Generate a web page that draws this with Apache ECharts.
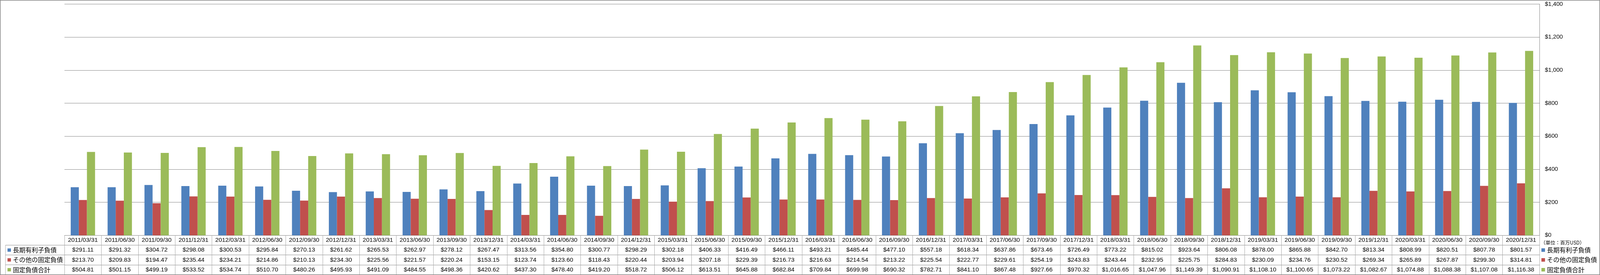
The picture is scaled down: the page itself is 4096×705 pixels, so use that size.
<!DOCTYPE html>
<html><head><meta charset="utf-8">
<script src="https://cdn.jsdelivr.net/npm/echarts@6/dist/echarts.min.js"></script>
<style>html,body{margin:0;padding:0;background:#fff}#c{width:4096px;height:705px}</style>
</head><body><div id="c"></div>
<script>
const categories = ['2011/03/31','2011/06/30','2011/09/30','2011/12/31','2012/03/31','2012/06/30','2012/09/30','2012/12/31','2013/03/31','2013/06/30','2013/09/30','2013/12/31','2014/03/31','2014/06/30','2014/09/30','2014/12/31','2015/03/31','2015/06/30','2015/09/30','2015/12/31','2016/03/31','2016/06/30','2016/09/30','2016/12/31','2017/03/31','2017/06/30','2017/09/30','2017/12/31','2018/03/31','2018/06/30','2018/09/30','2018/12/31','2019/03/31','2019/06/30','2019/09/30','2019/12/31','2020/03/31','2020/06/30','2020/09/30','2020/12/31'];
const longTermDebt = [291.11,291.32,304.72,298.08,300.53,295.84,270.13,261.62,265.53,262.97,278.12,267.47,313.56,354.80,300.77,298.29,302.18,406.33,416.49,466.11,493.21,485.44,477.10,557.18,618.34,637.86,673.46,726.49,773.22,815.02,923.64,806.08,878.00,865.88,842.70,813.34,808.99,820.51,807.78,801.57];
const otherFixedLiabilities = [213.70,209.83,194.47,235.44,234.21,214.86,210.13,234.30,225.56,221.57,220.24,153.15,123.74,123.60,118.43,220.44,203.94,207.18,229.39,216.73,216.63,214.54,213.22,225.54,222.77,229.61,254.19,243.83,243.44,232.95,225.75,284.83,230.09,234.76,230.52,269.34,265.89,267.87,299.30,314.81];
const totalFixedLiabilities = [504.81,501.15,499.19,533.52,534.74,510.70,480.26,495.93,491.09,484.55,498.36,420.62,437.30,478.40,419.20,518.72,506.12,613.51,645.88,682.84,709.84,699.98,690.32,782.71,841.10,867.48,927.66,970.32,1016.65,1047.96,1149.39,1090.91,1108.10,1100.65,1073.22,1082.67,1074.88,1088.38,1107.08,1116.38];
const seriesNames = ['長期有利子負債','その他の固定負債','固定負債合計'];
const seriesColors = ['#4F81BD','#C0504D','#9BBB59'];
const yMin = 0, yMax = 1400, yInterval = 200;
const unitLabel = '（単位：百万USD）';

// layout (px)
const W = 4096, H = 705;
const plotLeft = 165, plotRight = 3941, plotTop = 10.4, plotBottom = 603.3;
const rowH = 25.2, tableLeft = 14;
const latin = 'Liberation Sans', cjk = 'Noto Sans CJK JP';
const fmtMoney = v => '$' + v.toLocaleString('en-US', {minimumFractionDigits: 2, maximumFractionDigits: 2});
const rows = [longTermDebt, otherFixedLiabilities, totalFixedLiabilities];

const labelStyle = {interval: 0, margin: rowH / 2, verticalAlign: 'middle', fontSize: 15.5, fontFamily: latin, color: '#000'};
const xAxes = [{
  type: 'category', data: categories, position: 'bottom', gridIndex: 0,
  axisLine: {show: true, lineStyle: {color: '#868686', width: 1}},
  axisTick: {show: true, interval: 0, length: rowH * 4, lineStyle: {color: '#A6A6A6', width: 1}},
  axisLabel: labelStyle, splitLine: {show: false}
}];
rows.forEach((arr, k) => {
  xAxes.push({
    type: 'category', data: categories, position: 'bottom', gridIndex: 0, offset: rowH * (k + 1),
    axisLine: {show: true, lineStyle: {color: '#8C8C8C', width: 1}},
    axisTick: {show: false}, splitLine: {show: false},
    axisLabel: Object.assign({}, labelStyle, {formatter: (v, i) => fmtMoney(arr[i])})
  });
});

const legendBase = {
  orient: 'vertical', top: plotBottom + rowH * 1.5 - 8, padding: 0, icon: 'rect',
  itemGap: rowH - 16, itemTextGap: 4.8,
  textStyle: {fontSize: 16, lineHeight: 16, fontFamily: cjk, color: '#000'},
  data: seriesNames, selectedMode: false
};

const gLines = [];
gLines.push({type: 'line', shape: {x1: tableLeft, y1: plotBottom + rowH, x2: tableLeft, y2: plotBottom + rowH * 4}, style: {stroke: '#A6A6A6', lineWidth: 1}});
for (let k = 1; k <= 3; k++) {
  gLines.push({type: 'line', shape: {x1: tableLeft, y1: plotBottom + rowH * k, x2: plotLeft, y2: plotBottom + rowH * k}, style: {stroke: '#8C8C8C', lineWidth: 1}});
}

const chart = echarts.init(document.getElementById('c'), null, {renderer: 'canvas'});
chart.setOption({
  animation: false,
  backgroundColor: '#fff',
  grid: {left: plotLeft, right: W - plotRight, top: plotTop, bottom: H - plotBottom, containLabel: false},
  xAxis: xAxes,
  yAxis: {
    type: 'value', position: 'right', min: yMin, max: yMax, interval: yInterval,
    axisLine: {show: true, lineStyle: {color: '#868686', width: 1}},
    axisTick: {show: false},
    splitLine: {show: true, lineStyle: {color: '#868686', width: 1}},
    axisLabel: {margin: 14, fontSize: 15, fontFamily: latin, color: '#000', formatter: v => '$' + v.toLocaleString('en-US')}
  },
  legend: [
    Object.assign({}, legendBase, {left: 19.2, itemWidth: 8.8, itemHeight: 8.5}),
    Object.assign({}, legendBase, {left: 3946, itemWidth: 9.2, itemHeight: 9})
  ],
  series: rows.map((arr, k) => ({
    type: 'bar', name: seriesNames[k], data: arr, xAxisIndex: 0, yAxisIndex: 0,
    barWidth: '22%', barGap: '0%', itemStyle: {color: seriesColors[k]}
  })),
  graphic: [
    {type: 'rect', shape: {x: 0.75, y: 0.75, width: W - 1.5, height: H - 1.5}, style: {fill: 'none', stroke: '#868686', lineWidth: 1.5}, z: 100},
    ...gLines,
    {type: 'text', x: 3944, y: plotBottom + 19.3, style: {text: unitLabel, fontSize: 12.5, fontFamily: cjk, fill: '#000', verticalAlign: 'middle', align: 'left'}}
  ]
});
</script>
</body></html>
